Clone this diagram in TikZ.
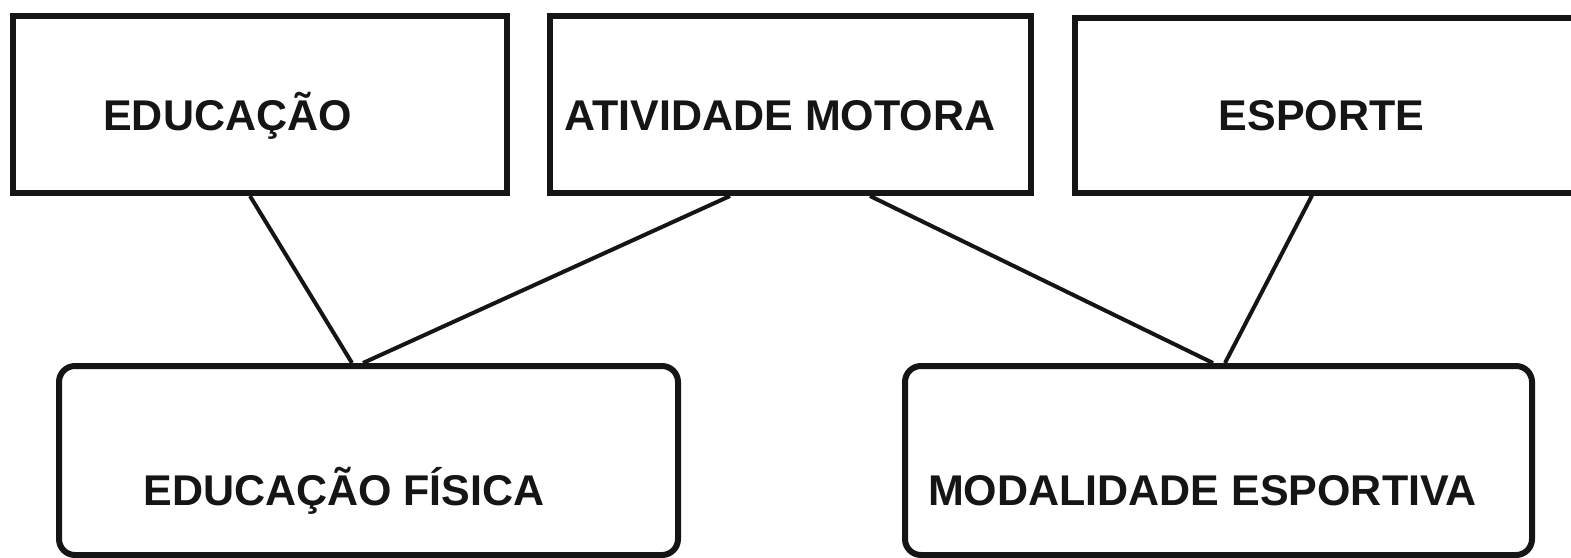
\documentclass[tikz,border=0pt]{standalone}
\usepackage{fontspec}
\setmainfont{Liberation Sans}
\usetikzlibrary{calc}
\definecolor{ink}{HTML}{151515}
\tikzset{
  sqbox/.style={draw=ink, line width=6pt, rectangle, inner sep=0pt},
  rdbox/.style={draw=ink, line width=6pt, rectangle, rounded corners=16pt, inner sep=0pt},
  lbl/.style={anchor=base, inner sep=0pt, text=ink, font=\fontsize{43}{43}\selectfont\bfseries},
  link/.style={draw=ink, line width=4pt}
}
\begin{document}
\begin{tikzpicture}[x=1pt,y=-1pt]
\useasboundingbox[fill=white] (0,0) rectangle (1571,557);
% top boxes
\node[sqbox, minimum width=494pt, minimum height=177pt] (b1) at (260,104.5) {};
\node[sqbox, minimum width=481pt, minimum height=177pt] (b2) at (790.5,104.5) {};
\node[sqbox, minimum width=545pt, minimum height=175pt] (b3) at (1347.5,105) {};
% bottom boxes
\node[rdbox, minimum width=619pt, minimum height=189pt] (b4) at (368.5,460.5) {};
\node[rdbox, minimum width=627pt, minimum height=189pt] (b5) at (1218.5,460.5) {};
% labels
\node[lbl] (t1) at (227.5,130) {EDUCAÇÃO};
\node[lbl] (t2) at (780,130) {ATIVIDADE MOTORA};
\node[lbl] (t3) at (1321.5,130) {ESPORTE};
\node[lbl] (t4) at (344,505) {EDUCAÇÃO FÍSICA};
\node[lbl] (t5) at (1202.5,505) {MODALIDADE ESPORTIVA};
% connectors
\draw[link] ([xshift=-10pt]b1.south) -- ([xshift=-16.5pt]b4.north);
\draw[link] ([xshift=-60.5pt]b2.south) -- ([xshift=-5.5pt]b4.north);
\draw[link] ([xshift=79.5pt]b2.south) -- ([xshift=-5.5pt]b5.north);
\draw[link] ([xshift=-35.5pt]b3.south) -- ([xshift=6.5pt]b5.north);
\end{tikzpicture}
\end{document}
